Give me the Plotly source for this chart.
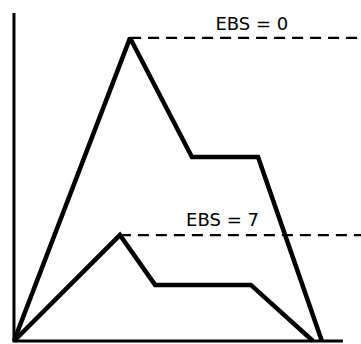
import plotly.graph_objects as go

# EBS = 0 curve (upper)
x_ebs0 = [0, 3.53, 5.41, 7.42, 9.36]
y_ebs0 = [0, 9.24, 5.61, 5.61, 0]

# EBS = 7 curve (lower)
x_ebs7 = [0, 3.22, 4.29, 7.20, 9.09]
y_ebs7 = [0, 3.23, 1.71, 1.71, 0]

labels = ['EBS = 0', 'EBS = 7']
label_x = [7.23, 6.34]
label_y = [9.63, 3.65]

x_end = 10.0
y_end = 10.0
dash_end = 10.55

fig = go.Figure()

# axes drawn as lines
fig.add_trace(go.Scatter(x=[0, 0, x_end], y=[y_end, 0, 0], mode='lines',
                         line=dict(color='black', width=3), hoverinfo='skip'))

# dashed reference lines from the peaks
for xs, ys in [(x_ebs0, y_ebs0), (x_ebs7, y_ebs7)]:
    peak = ys.index(max(ys))
    fig.add_trace(go.Scatter(x=[xs[peak], dash_end], y=[ys[peak], ys[peak]], mode='lines',
                             line=dict(color='black', width=2.2, dash='11px,7px'), hoverinfo='skip'))

for xs, ys in [(x_ebs0, y_ebs0), (x_ebs7, y_ebs7)]:
    fig.add_trace(go.Scatter(x=xs, y=ys, mode='lines',
                             line=dict(color='black', width=4.5), hoverinfo='skip'))

fig.add_trace(go.Scatter(x=label_x, y=label_y, mode='text', text=labels,
                         textfont=dict(family='DejaVu Sans', size=18, color='black'),
                         hoverinfo='skip'))

fig.update_layout(
    width=361, height=344,
    margin=dict(l=12, r=0, t=13, b=1),
    paper_bgcolor='white', plot_bgcolor='white',
    showlegend=False,
    xaxis=dict(range=[-0.06, dash_end], visible=False, fixedrange=True),
    yaxis=dict(range=[-0.061, y_end], visible=False, fixedrange=True),
)

# drop the default page margin so the figure sits at the window corner
fig.write_html("out.html", config={'displayModeBar': False},
               post_script="document.body.style.margin='0';")
